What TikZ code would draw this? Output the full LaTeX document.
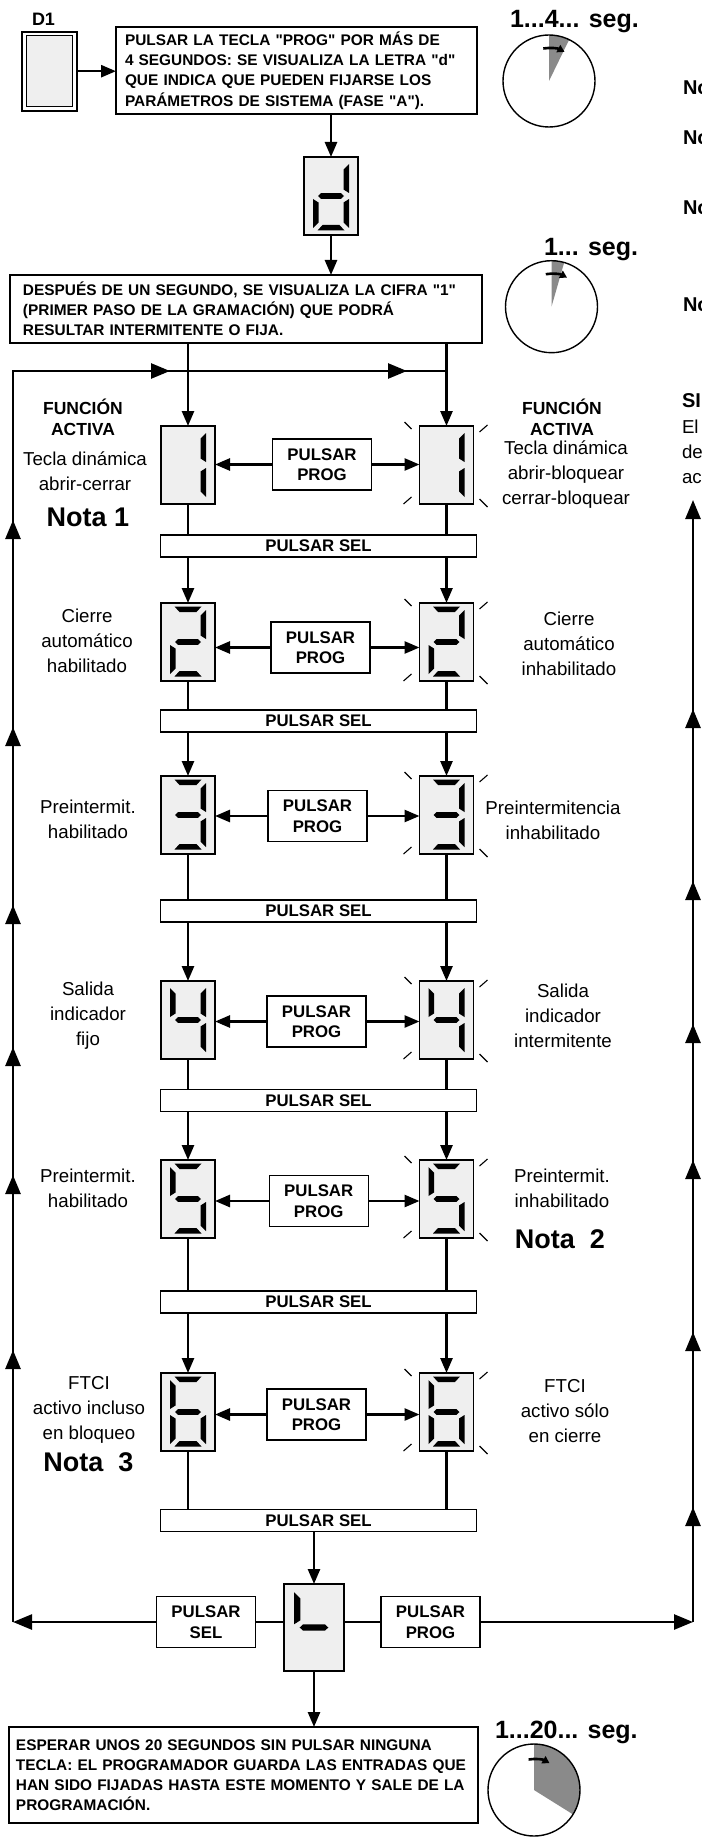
\documentclass[tikz,border=0pt]{standalone}
\usepackage{fontspec}
\setmainfont{Liberation Sans}
\newfontfamily\plainsans{Liberation Sans}
\usetikzlibrary{arrows.meta,decorations.markings,calc}
\definecolor{dispgray}{HTML}{EFEFEF}
\definecolor{wedgegray}{HTML}{8A8A8A}

\newcommand\fBox{\plainsans\bfseries\fontsize{15.4}{20.2}\selectfont}
\newcommand\fBtn{\bfseries\fontsize{16.8}{20.5}\selectfont}
\newcommand\fLbl{\fontsize{18.7}{25}\selectfont}
\newcommand\fHd{\bfseries\fontsize{17.5}{21}\selectfont}
\newcommand\fNota{\bfseries\fontsize{27}{30}\selectfont}
\newcommand\fClk{\bfseries\fontsize{25}{28}\selectfont}
\newcommand\fSide{\bfseries\fontsize{20}{24}\selectfont}
\newcommand\fDone{\bfseries\fontsize{18}{22}\selectfont}

% seven-segment pieces (relative to display centre, y downwards)
\newcommand\dsegA{\fill (-13.5,-35.5) -- (13.5,-35.5) -- (8.5,-30) -- (-8.5,-30) -- cycle;}
\newcommand\dsegB{\fill (18,-32) -- (18,-3) -- (12.5,-6.5) -- (12.5,-26.5) -- cycle;}
\newcommand\dsegC{\fill (18,3) -- (18,32) -- (12.5,26.5) -- (12.5,6.5) -- cycle;}
\newcommand\dsegD{\fill (-13.5,34.5) -- (13.5,34.5) -- (8.5,29) -- (-8.5,29) -- cycle;}
\newcommand\dsegE{\fill (-18,3) -- (-18,32) -- (-12.5,26.5) -- (-12.5,6.5) -- cycle;}
\newcommand\dsegF{\fill (-18,-32) -- (-18,-3) -- (-12.5,-6.5) -- (-12.5,-26.5) -- cycle;}
\newcommand\dsegG{\fill (-13,0) -- (-10,-2.8) -- (10,-2.8) -- (13,0) -- (10,2.8) -- (-10,2.8) -- cycle;}

\newcommand\dispbox[5]{%
  \node[disp,#5] (#1) at (#2,#3) {};
  \begin{scope}[shift={(#2,#3)}]
    \foreach \s in {#4}{\csname dseg\s\endcsname}
  \end{scope}}

\newcommand\blink[1]{%
  \draw[tick] ([shift={(-15,-4)}]#1.north west) -- ([shift={(-8,3)}]#1.north west);
  \draw[tick] ([shift={(6,6)}]#1.north east) -- ([shift={(14,-1)}]#1.north east);
  \draw[tick] ([shift={(-16,0)}]#1.south west) -- ([shift={(-8,-7)}]#1.south west);
  \draw[tick] ([shift={(6,-5)}]#1.south east) -- ([shift={(14,3)}]#1.south east);}

\newcommand\mkrow[6]{%
  \dispbox{L#1}{188}{#2}{#6}{}
  \dispbox{R#1}{446.5}{#2}{#6}{}
  \node[btn] (P#1) at (#3,#4) {PULSAR\\PROG};
  \node[selbar] (S#1) at (318.5,#5) {PULSAR SEL};
  \draw[arr] (P#1.west) -- (L#1.east |- P#1.west);
  \draw[arr] (P#1.east) -- (R#1.west |- P#1.east);
  \draw[ln] (L#1.south) -- (L#1.south |- S#1.north);
  \draw[ln] (R#1.south) -- (R#1.south |- S#1.north);
  \blink{R#1}}

\tikzset{
  every node/.style={inner sep=0pt, outer sep=0pt},
  loophead/.tip={Triangle[length=19pt,width=15pt]},
  ln/.style={line width=2.6pt},
  arr/.style={ln, -{Triangle[length=15pt,width=12pt]}},
  bigarr/.style={ln, -{Triangle[length=19pt,width=15pt]}},
  txtbox/.style={draw, line width=1.5pt, fill=white, align=left, font=\fBox},
  btn/.style={draw, line width=1.2pt, fill=white, minimum width=99pt, minimum height=51pt, font=\fBtn, align=center},
  selbar/.style={draw, line width=1.2pt, fill=white, minimum width=316pt, minimum height=22pt, font=\fBtn},
  disp/.style={draw, line width=1.8pt, fill=dispgray, minimum width=54pt, minimum height=78pt},
  tick/.style={line width=1.1pt},
  lbl/.style={font=\fLbl, align=center},
  hd/.style={font=\fHd, align=center},
  nota/.style={font=\fNota},
  clk/.style={draw, circle, line width=1.4pt, minimum size=92pt},
  clktxt/.style={font=\fClk, anchor=base west},
  turn/.style={line width=2.6pt, -{Triangle[length=7pt,width=8pt]}},
  side/.style={font=\fSide, anchor=base west},
  sidereg/.style={font=\fLbl, anchor=base west},
  leftmarks/.style={postaction={decorate}, decoration={markings,
    mark=at position 272pt with {\arrow{loophead}},
    mark=at position 447pt with {\arrow{loophead}},
    mark=at position 575pt with {\arrow{loophead}},
    mark=at position 717pt with {\arrow{loophead}},
    mark=at position 895pt with {\arrow{loophead}},
    mark=at position 1102pt with {\arrow{loophead}},
    mark=at position 1408pt with {\arrow{loophead}},
    mark=at position 1645pt with {\arrow{loophead}}}},
  rightmarks/.style={postaction={decorate}, decoration={markings,
    mark=at position 115pt with {\arrow{loophead}},
    mark=at position 290pt with {\arrow{loophead}},
    mark=at position 462pt with {\arrow{loophead}},
    mark=at position 598pt with {\arrow{loophead}},
    mark=at position 741pt with {\arrow{loophead}},
    mark=at position 913pt with {\arrow{loophead}}}}
}

\begin{document}
\begin{tikzpicture}[x=1pt,y=-1pt]
\useasboundingbox (0,0) rectangle (701,1843);
\clip (0,0) rectangle (701,1843);

% ---------- top ----------
\node[font=\fDone, anchor=base west] (d1lbl) at (32,26) {D1};
\node[draw, line width=1.8pt, fill=white, minimum width=55.6pt, minimum height=79pt] (D1) at (49.5,71.2) {};
\node[draw, line width=1.2pt, fill=dispgray, minimum width=46pt, minimum height=70.7pt] (D1in) at (D1.center) {};

\node[txtbox, minimum width=361pt, minimum height=87pt, text width=343pt] (box1) at (296.5,70.5)
  {PULSAR LA TECLA "PROG" POR MÁS DE\\4 SEGUNDOS: SE VISUALIZA LA LETRA "d"\\QUE INDICA QUE PUEDEN FIJARSE LOS\\PARÁMETROS DE SISTEMA (FASE "A").};
\draw[arr] (D1.east) -- (D1.east -| box1.west);

\dispbox{dd}{331}{196}{B,C,D,E,G}{}
\draw[arr] (box1.south -| dd.north) -- (dd.north);

\node[txtbox, minimum width=472pt, minimum height=68pt, text width=446pt] (box2) at (246,309)
  {DESPUÉS DE UN SEGUNDO, SE VISUALIZA LA CIFRA "1"\\(PRIMER PASO DE LA GRAMACIÓN) QUE PODRÁ\\RESULTAR INTERMITENTE O FIJA.};
\draw[arr] (dd.south) -- (dd.south |- box2.north);

% clocks
\coordinate (c1c) at (549,81);
\fill[wedgegray] (c1c) -- ++(-90:46) arc[start angle=-90, end angle=-64, radius=46] -- cycle;
\node[clk] (c1) at (c1c) {};
\draw[turn] ($(c1c)+(-100:33)$) arc[start angle=-100, end angle=-62, radius=33];
\node[clktxt] (c1t) at (510,28) {1...4... seg.};

\coordinate (c2c) at (551.5,306.7);
\fill[wedgegray] (c2c) -- ++(-90:46) arc[start angle=-90, end angle=-74, radius=46] -- cycle;
\node[clk] (c2) at (c2c) {};
\draw[turn] ($(c2c)+(-100:33)$) arc[start angle=-100, end angle=-62, radius=33];
\node[clktxt] (c2t) at (544,256) {1... seg.};

% partially visible notes at right edge
\node[side] (n1) at (683,95) {Nota};
\node[side] (n2) at (683,145) {Nota};
\node[side] (n3) at (683,215) {Nota};
\node[side] (n4) at (683,312) {Nota};
\node[side] (si) at (682,407) {SI};
\node[sidereg] (el) at (682,433) {El};
\node[sidereg] (de) at (682,458) {de};
\node[sidereg] (ac) at (682,483) {ac};

% ---------- rows ----------
\mkrow{1}{465}{322}{464.5}{546}{B,C}
\mkrow{2}{642}{320.5}{647.5}{721}{A,B,G,E,D}
\mkrow{3}{815}{317.5}{816}{911}{A,B,G,C,D}
\mkrow{4}{1020}{316.5}{1021.5}{1100.5}{F,G,B,C}
\mkrow{5}{1199}{318.7}{1201}{1302}{A,F,G,C,D}
\mkrow{6}{1412}{316.5}{1414.5}{1520.5}{A,F,G,E,C,D}

\foreach \a/\b in {1/2,2/3,3/4,4/5,5/6}{
  \draw[arr] (L\a.south |- S\a.south) -- (L\b.north);
  \draw[arr] (R\a.south |- S\a.south) -- (R\b.north);}

\draw[arr] (box2.south -| L1.north) -- (L1.north);
\draw[arr] (box2.south -| R1.north) -- (R1.north);

% labels
\node[hd] (h1l) at (83,417) {FUNCIÓN\\ACTIVA};
\node[lbl] (t1l) at (85,471) {Tecla dinámica\\abrir-cerrar};
\node[nota] (nota1) at (88,517) {Nota 1};
\node[hd] (h1r) at (562,417) {FUNCIÓN\\ACTIVA};
\node[lbl] (t1r) at (566,475) {Tecla dinámica\\abrir-bloquear\\cerrar-bloquear};

\node[lbl] (t2l) at (87,640.5) {Cierre\\automático\\habilitado};
\node[lbl] (t2r) at (569,644) {Cierre\\automático\\inhabilitado};

\node[lbl] (t3l) at (88,819) {Preintermit.\\habilitado};
\node[lbl] (t3r) at (553,820.5) {Preintermitencia\\inhabilitado};

\node[lbl] (t4l) at (88,1016) {Salida\\indicador\\fijo};
\node[lbl] (t4r) at (563,1016) {Salida\\indicador\\intermitente};

\node[lbl] (t5l) at (88,1188.5) {Preintermit.\\habilitado};
\node[lbl] (t5r) at (562,1188.5) {Preintermit.\\inhabilitado};
\node[nota] (nota2) at (560,1239) {Nota\ \ 2};

\node[lbl] (t6l) at (89,1410) {FTCI\\activo incluso\\en bloqueo};
\node[nota] (nota3) at (88.5,1462) {Nota\ \ 3};
\node[lbl] (t6r) at (565,1411.5) {FTCI\\activo sólo\\en cierre};

% ---------- bottom ----------
\node[disp, minimum width=60pt, minimum height=87pt] (F) at (314,1627.5) {};
\begin{scope}[shift={(314,1627.5)}, scale=1.1]
  \dsegF \dsegG
\end{scope}
\draw[arr] (S6.south -| F.north) -- (F.north);

\node[btn] (SB) at (206,1622) {PULSAR\\SEL};
\node[btn] (PB) at (430.5,1622) {PULSAR\\PROG};
\draw[ln] (SB.east) -- (SB.east -| F.west);
\draw[ln] (PB.west) -- (PB.west -| F.east);

\coordinate (lb) at (13,1622);
\coordinate (lt) at (13,371);
\coordinate (rb) at (693,1622);
\coordinate (rt) at (693,500);
\draw[bigarr] (SB.west) -- (lb);
\draw[bigarr] (PB.east) -- (rb);
\draw[ln, leftmarks] (lb) -- (lt) -- (lt -| R1.north);
\draw[bigarr, rightmarks] (rb) -- (rt);

\node[txtbox, minimum width=469pt, minimum height=96pt, text width=455pt] (fbox) at (243.5,1775)
  {ESPERAR UNOS 20 SEGUNDOS SIN PULSAR NINGUNA\\TECLA: EL PROGRAMADOR GUARDA LAS ENTRADAS QUE\\HAN SIDO FIJADAS HASTA ESTE MOMENTO Y SALE DE LA\\PROGRAMACIÓN.};
\draw[arr] (F.south) -- (F.south |- fbox.north);

\coordinate (c3c) at (534,1790);
\fill[wedgegray] (c3c) -- ++(-90:46) arc[start angle=-90, end angle=32, radius=46] -- cycle;
\node[clk] (c3) at (c3c) {};
\draw[turn] ($(c3c)+(-100:31)$) arc[start angle=-100, end angle=-60, radius=31];
\node[clktxt] (c3t) at (495,1738) {1...20... seg.};
\end{tikzpicture}
\end{document}
